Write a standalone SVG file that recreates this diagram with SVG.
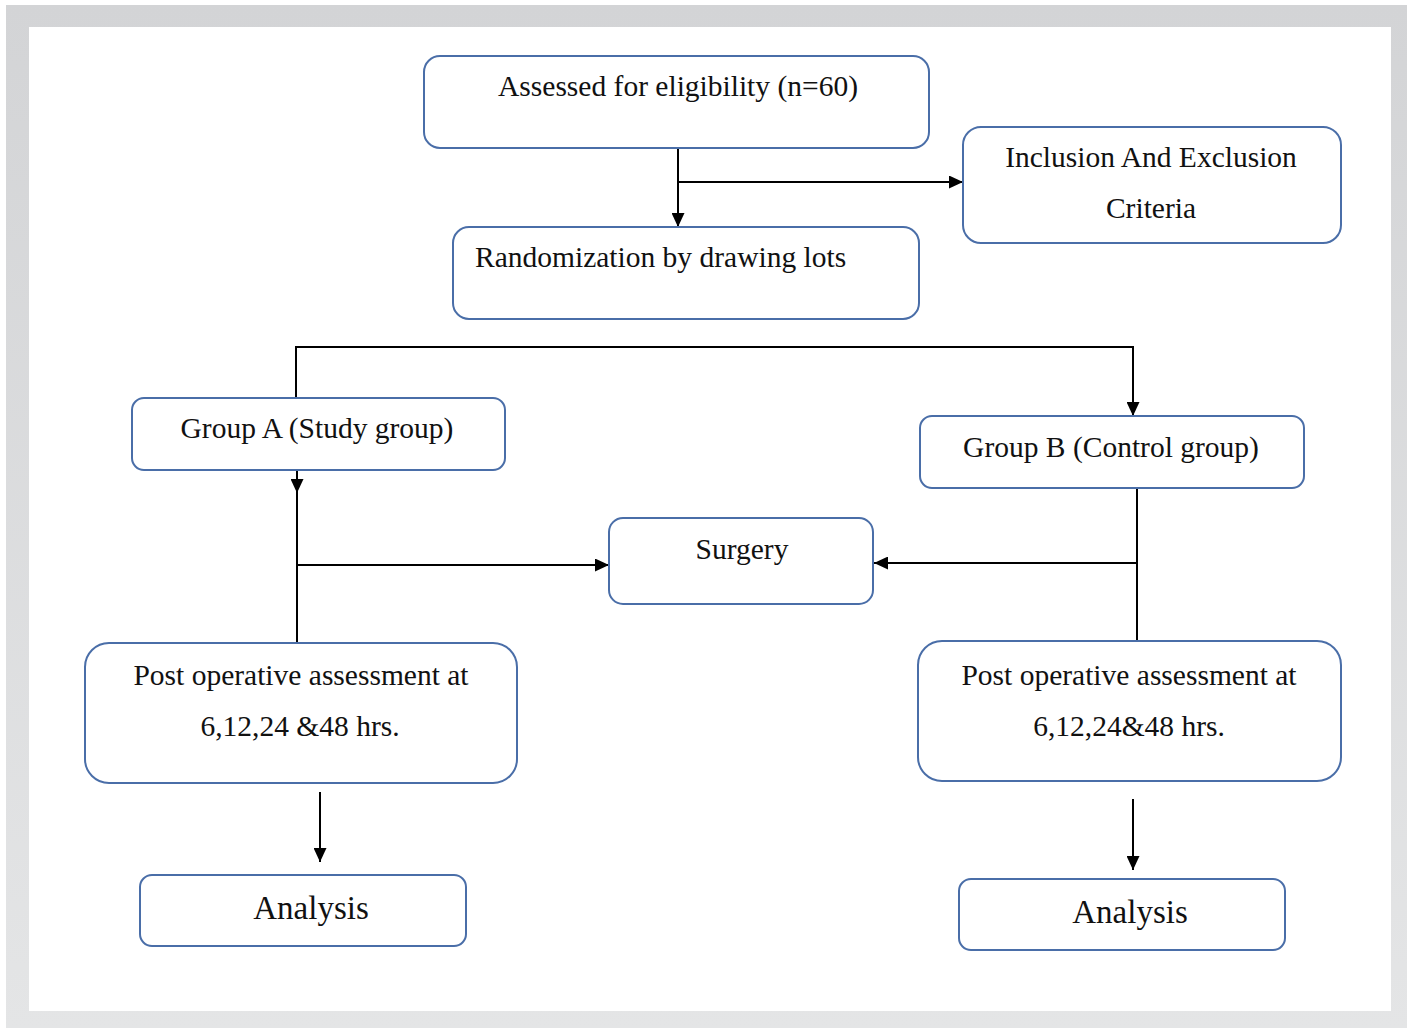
<svg xmlns="http://www.w3.org/2000/svg" width="1409" height="1028" viewBox="0 0 1409 1028">
<defs>
<linearGradient id="frame" x1="0" y1="0" x2="0" y2="1">
<stop offset="0" stop-color="#d3d4d6"/>
<stop offset="1" stop-color="#e4e5e6"/>
</linearGradient>
<marker id="arr" viewBox="0 0 14 13" refX="14" refY="6.5" markerWidth="14" markerHeight="13" markerUnits="userSpaceOnUse" orient="auto">
<path d="M0,0 L14,6.5 L0,13 Z" fill="#000"/>
</marker>
<style>
.box{fill:#fff;stroke:#4a6ea8;stroke-width:2}
.t{font-family:"Liberation Serif","Times New Roman",serif;font-size:29.5px;fill:#111;text-anchor:middle}
.big{font-size:33px}
.c{fill:none;stroke:#000;stroke-width:2}
</style>
</defs>
<rect x="0" y="0" width="1409" height="1028" fill="#fff"/>
<rect x="6" y="5" width="1401" height="1023" fill="url(#frame)"/>
<rect x="29" y="27" width="1362" height="984" fill="#fff"/>

<g id="connectors">
<path class="c" d="M678,149 V227" marker-end="url(#arr)"/>
<path class="c" d="M678,182 H963" marker-end="url(#arr)"/>
<path class="c" d="M296,398 V347 H1133 V416" marker-end="url(#arr)"/>
<path class="c" d="M297,470 V493" marker-end="url(#arr)"/>
<path class="c" d="M297,490 V643" stroke="#333"/>
<path class="c" d="M298,565 H609" marker-end="url(#arr)"/>
<path class="c" d="M1137,485 V641"/>
<path class="c" d="M1137,563 H874" marker-end="url(#arr)"/>
<path class="c" d="M320,792 V862" marker-end="url(#arr)"/>
<path class="c" d="M1133,799 V870" marker-end="url(#arr)"/>
</g>

<g id="assessed">
<rect class="box" x="424" y="56" width="505" height="92" rx="16"/>
<text class="t" x="678" y="96">Assessed for eligibility (n=60)</text>
</g>
<g id="criteria">
<rect class="box" x="963" y="127" width="378" height="116" rx="18"/>
<text class="t" x="1151" y="167">Inclusion And Exclusion</text>
<text class="t" x="1151" y="218">Criteria</text>
</g>
<g id="randomization">
<rect class="box" x="453" y="227" width="466" height="92" rx="16"/>
<text class="t" x="475" y="267" style="text-anchor:start">Randomization by drawing lots</text>
</g>
<g id="groupA">
<rect class="box" x="132" y="398" width="373" height="72" rx="12"/>
<text class="t" x="317" y="438">Group A (Study group)</text>
</g>
<g id="groupB">
<rect class="box" x="920" y="416" width="384" height="72" rx="12"/>
<text class="t" x="1111" y="457">Group B (Control group)</text>
</g>
<g id="surgery">
<rect class="box" x="609" y="518" width="264" height="86" rx="14"/>
<text class="t" x="742" y="559">Surgery</text>
</g>
<g id="postA">
<rect class="box" x="85" y="643" width="432" height="140" rx="24"/>
<text class="t" x="301" y="685">Post operative assessment at</text>
<text class="t" x="300" y="736">6,12,24 &amp;48 hrs.</text>
</g>
<g id="postB">
<rect class="box" x="918" y="641" width="423" height="140" rx="24"/>
<text class="t" x="1129" y="685">Post operative assessment at</text>
<text class="t" x="1129" y="736">6,12,24&amp;48 hrs.</text>
</g>
<g id="analysisA">
<rect class="box" x="140" y="875" width="326" height="71" rx="12"/>
<text class="t big" x="311" y="919">Analysis</text>
</g>
<g id="analysisB">
<rect class="box" x="959" y="879" width="326" height="71" rx="12"/>
<text class="t big" x="1130" y="923">Analysis</text>
</g>
</svg>
